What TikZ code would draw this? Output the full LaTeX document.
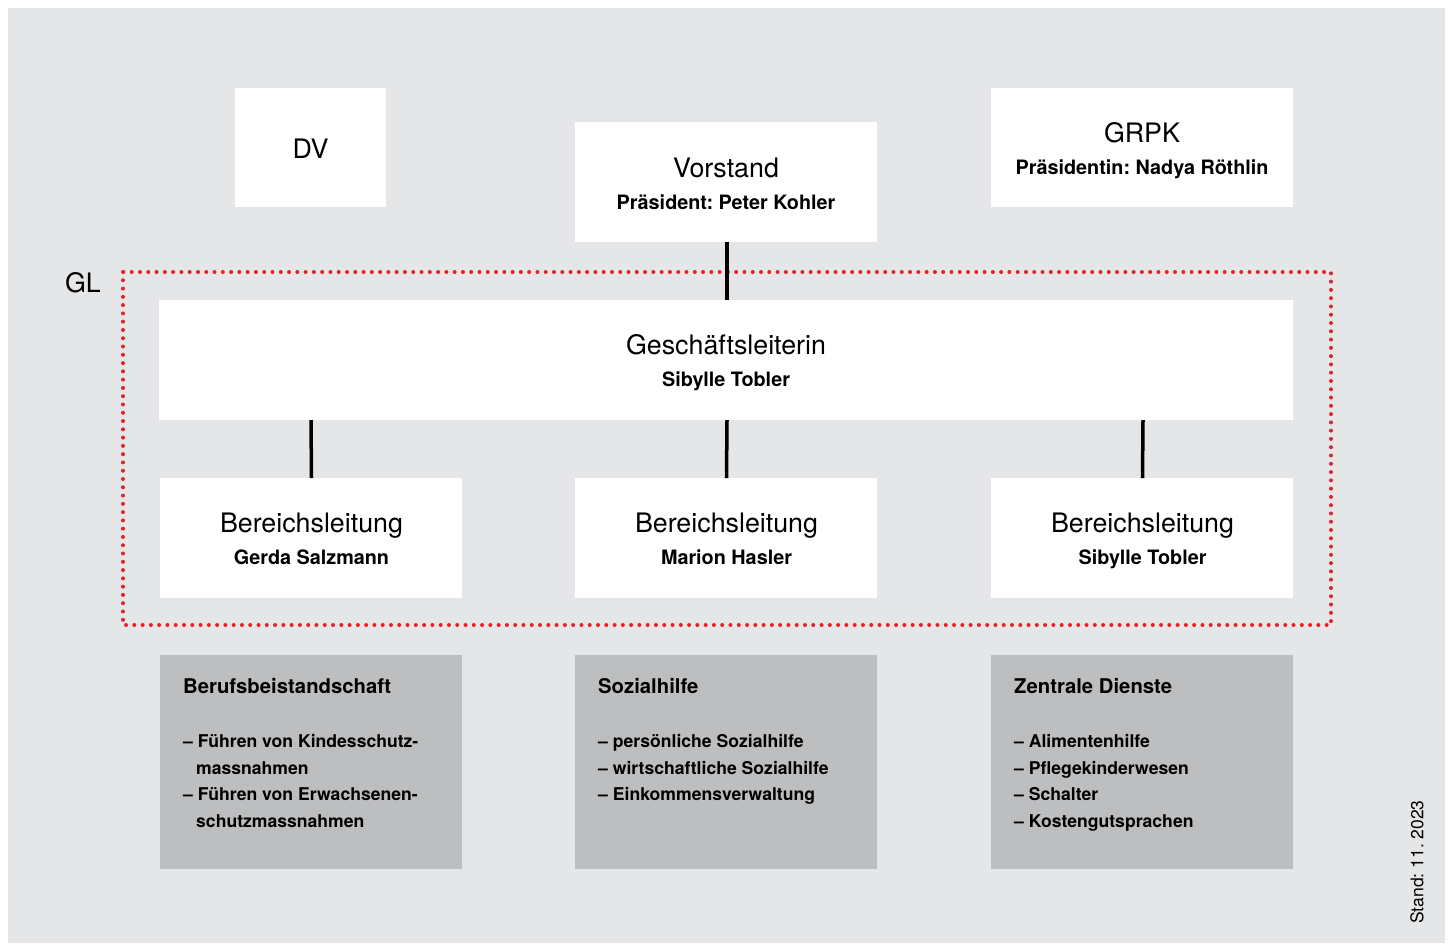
\documentclass[tikz,border=0pt]{standalone}
\usepackage{fontspec}
\setmainfont{TeX Gyre Heros}
\usetikzlibrary{calc}
\definecolor{bggray}{HTML}{E5E6E8}
\definecolor{boxgray}{HTML}{BDBEC0}
\definecolor{dotred}{HTML}{E8202A}
\frenchspacing
\begin{document}
\begin{tikzpicture}[x=1pt,y=-1pt,
  whitebox/.style={fill=white,draw=none},
  graybox/.style={fill=boxgray,draw=none},
  ttl/.style={font=\fontsize{26.8}{30}\selectfont,inner sep=0pt,anchor=base},
  nm/.style={font=\bfseries\fontsize{19.8}{23}\selectfont,inner sep=0pt,anchor=base},
  gttl/.style={font=\bfseries\fontsize{20.3}{24}\selectfont,inner sep=0pt,anchor=base west},
  item/.style={font=\bfseries\fontsize{17.6}{21}\selectfont,inner sep=0pt,anchor=base west},
  conn/.style={line width=3.5pt,black}
]
\useasboundingbox (0,0) rectangle (1453,943);
\fill[white] (0,0) rectangle (1453,943);
\fill[bggray] (8,8) rectangle (1445,943);

% top boxes
\path[whitebox] (235,88) rectangle (386,207);
\node[ttl] (dv) at (310.5,158.5) {DV};
\path[whitebox] (575,122) rectangle (877,242);
\coordinate (vorB) at (727,242);
\node[ttl] (vor) at (726,177.5) {Vorstand};
\node[nm] (vorN) at (726,209) {Präsident: Peter Kohler};
\path[whitebox] (991,88) rectangle (1293,207);
\node[ttl] (grpk) at (1142,142.5) {GRPK};
\node[nm] (grpkN) at (1142,174) {Präsidentin: Nadya Röthlin};

% GL frame
\node[ttl] (gl) at (83,292.5) {GL};
\draw[dotred,line width=4pt,line cap=round,dash pattern=on 0pt off 8.28pt] (123,272) rectangle (1331,625);

% Geschaeftsleiterin
\path[whitebox] (159,300) rectangle (1293,420);
\coordinate (gsT) at (727,300);
\node[ttl] (gs) at (726,354.5) {Geschäftsleiterin};
\node[nm] (gsN) at (726,386) {Sibylle Tobler};
\coordinate (gsB1) at (311,420);
\coordinate (gsB2) at (727,420);
\coordinate (gsB3) at (1143,420);

% Bereichsleitungen
\foreach \x/\n/\nm in {160/b1/Gerda Salzmann,575/b2/Marion Hasler,991/b3/Sibylle Tobler}{
  \path[whitebox] (\x,478) rectangle ++(302,120);
  \node[ttl] (\n) at ($(\x,532.5)+(151.5,0)$) {Bereichsleitung};
  \node[nm] (\n N) at ($(\x,564)+(151.5,0)$) {\nm};
  \coordinate (\n T) at ($(\x,478)+(151.5,0)$);
}

\draw[conn] (vorB) -- (gsT);
\draw[conn] (gsB1) -- (b1T);
\draw[conn] (gsB2) -- (b2T);
\draw[conn] (gsB3) -- (b3T);

% gray boxes
\path[graybox] (160,655) rectangle (462,869);
\path[graybox] (575,655) rectangle (877,869);
\path[graybox] (991,655) rectangle (1293,869);

\node[gttl] (g1) at (183,693.5) {Berufsbeistandschaft};
\node[item] (g1a) at (183,747.5) {– Führen von Kindesschutz-};
\node[item] (g1b) at (196,774) {massnahmen};
\node[item] (g1c) at (183,800.5) {– Führen von Erwachsenen-};
\node[item] (g1d) at (196,827.5) {schutzmassnahmen};

\node[gttl] (g2) at (598,693.5) {Sozialhilfe};
\node[item] (g2a) at (598,747.5) {– persönliche Sozialhilfe};
\node[item] (g2b) at (598,774) {– wirtschaftliche Sozialhilfe};
\node[item] (g2c) at (598,800.5) {– Einkommensverwaltung};

\node[gttl] (g3) at (1014,693.5) {Zentrale Dienste};
\node[item] (g3a) at (1014,747.5) {– Alimentenhilfe};
\node[item] (g3b) at (1014,774) {– Pflegekinderwesen};
\node[item] (g3c) at (1014,800.5) {– Schalter};
\node[item] (g3d) at (1014,827.5) {– Kostengutsprachen};

\node[font=\fontsize{17.5}{21}\selectfont,inner sep=0pt,rotate=90] (stand) at (1417,862) {Stand: 11. 2023};
\end{tikzpicture}
\end{document}
